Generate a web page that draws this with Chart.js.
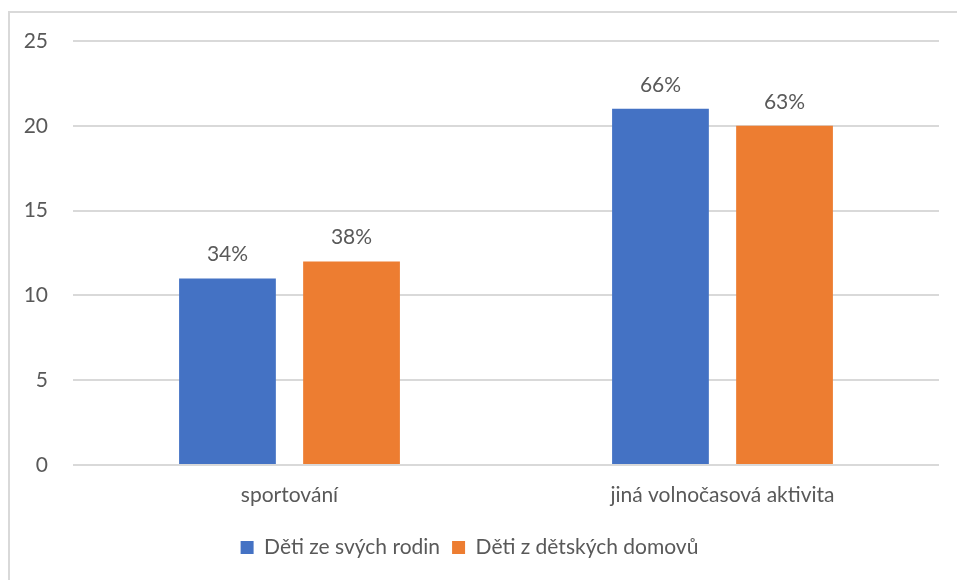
<!DOCTYPE html>
<html>
<head>
<meta charset="utf-8">
<script src="https://cdn.jsdelivr.net/npm/chart.js@4"></script>
<style>
  html, body { margin: 0; padding: 0; background: #fff; overflow: hidden; }
  #frame { position: absolute; left: 8px; top: 11px; width: 1000px; height: 700px; border: 2px solid #d9d9d9; box-sizing: border-box; }
  #wrap { position: absolute; left: 0; top: 0; width: 957px; height: 580px; }
</style>
</head>
<body>
<div id="frame"></div>
<div id="wrap"><canvas id="c" width="957" height="580"></canvas></div>
<script>
const categories = ['sportování', 'jiná volnočasová aktivita'];
const seriesNames = ['Děti ze svých rodin', 'Děti z dětských domovů'];
const valuesFamily = [11, 21];
const valuesHomes = [12, 20];
const labelsFamily = ['34%', '66%'];
const labelsHomes = ['38%', '63%'];
const yTicks = [0, 5, 10, 15, 20, 25];

const FONT = 'Lato, "Open Sans", sans-serif';
const TEXT = '#595959';
const FS = 21;

const dataLabelPlugin = {
  id: 'dataLabels',
  afterDatasetsDraw(chart) {
    const ctx = chart.ctx;
    ctx.save();
    ctx.font = FS + 'px ' + FONT;
    ctx.fillStyle = TEXT;
    ctx.textAlign = 'center';
    ctx.textBaseline = 'alphabetic';
    chart.data.datasets.forEach((ds, i) => {
      const meta = chart.getDatasetMeta(i);
      meta.data.forEach((el, j) => {
        ctx.fillText(ds.pctLabels[j], el.x, el.y - 17);
      });
    });
    ctx.restore();
  }
};

new Chart(document.getElementById('c'), {
  type: 'bar',
  data: {
    labels: categories,
    datasets: [
      { label: seriesNames[0], data: valuesFamily, pctLabels: labelsFamily, backgroundColor: '#4472C4' },
      { label: seriesNames[1], data: valuesHomes, pctLabels: labelsHomes, backgroundColor: '#ED7D31' }
    ]
  },
  options: {
    responsive: false,
    animation: false,
    devicePixelRatio: 1,
    layout: { padding: { top: 41, right: 18, left: 0, bottom: 12 } },
    datasets: { bar: { categoryPercentage: 0.573, barPercentage: 0.78 } },
    plugins: {
      legend: {
        position: 'bottom',
        labels: {
          font: { family: FONT, size: FS },
          color: TEXT,
          boxWidth: 13,
          boxHeight: 13,
          padding: 12
        }
      },
      tooltip: { enabled: false }
    },
    scales: {
      x: {
        grid: { display: false, drawTicks: false },
        border: { display: false },
        ticks: { font: { family: FONT, size: FS }, color: TEXT, padding: 18 },
        afterFit(scale) { scale.height = 60; }
      },
      y: {
        min: 0, max: 25,
        afterBuildTicks(scale) { scale.ticks = yTicks.map(v => ({ value: v })); },
        grid: { color: '#d9d9d9', lineWidth: 2, drawTicks: false },
        border: { display: false },
        ticks: { font: { family: FONT, size: FS }, color: TEXT, padding: 25 },
        afterFit(scale) { scale.width = 73; }
      }
    }
  },
  plugins: [dataLabelPlugin]
});
</script>
</body>
</html>
